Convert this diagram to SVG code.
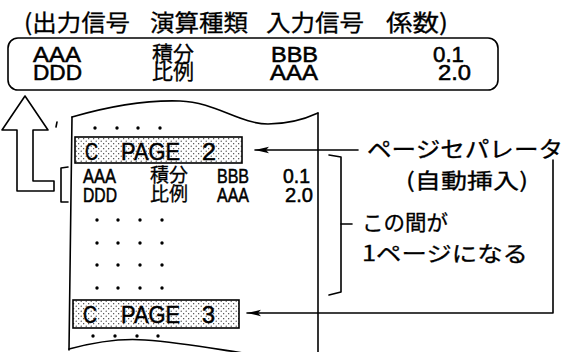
<svg xmlns="http://www.w3.org/2000/svg" width="567" height="352" viewBox="0 0 567 352">
<style>
.ln{fill:none;stroke:#000;stroke-width:1.6;stroke-linecap:round;stroke-linejoin:round}
.lt{font-family:"Liberation Sans","Noto Sans CJK JP",sans-serif;fill:#000;stroke:#000;stroke-width:0.55}
.jp{font-family:"Noto Sans CJK JP","Liberation Sans",sans-serif;fill:#000;stroke:#000;stroke-width:0.3}
.dot{fill:#000}
</style>
<defs>
<pattern id="stip" width="5" height="5" patternUnits="userSpaceOnUse">
<rect width="5" height="5" fill="#fff"/>
<circle cx="1.2" cy="1.2" r="0.6" fill="#222"/>
<circle cx="3.7" cy="3.7" r="0.6" fill="#222"/>
</pattern>
<marker id="ah" viewBox="0 0 14 8" refX="14" refY="4" markerWidth="14" markerHeight="8" markerUnits="userSpaceOnUse" orient="auto">
<path d="M14,4 L0,0.8 L3,4 L0,7.2 Z" fill="#000"/>
</marker>
</defs>

<g id="header">
<text class="jp" x="24" y="31" font-size="23" textLength="106" lengthAdjust="spacingAndGlyphs">(出力信号</text>
<text class="jp" x="150" y="31" font-size="23" textLength="98" lengthAdjust="spacingAndGlyphs">演算種類</text>
<text class="jp" x="266" y="31" font-size="23" textLength="98" lengthAdjust="spacingAndGlyphs">入力信号</text>
<text class="jp" x="386" y="31" font-size="23" textLength="62" lengthAdjust="spacingAndGlyphs">係数)</text>
</g>

<g id="table">
<rect class="ln" x="8" y="38" width="490" height="52" rx="10"/>
<text class="lt" font-size="22"><tspan x="33" y="62" textLength="48" lengthAdjust="spacingAndGlyphs">AAA</tspan><tspan x="33" y="80" textLength="49" lengthAdjust="spacingAndGlyphs">DDD</tspan></text>
<text class="jp" font-size="21"><tspan x="152" y="61">積分</tspan><tspan x="152" y="79">比例</tspan></text>
<text class="lt" font-size="22"><tspan x="271" y="62" textLength="47" lengthAdjust="spacingAndGlyphs">BBB</tspan><tspan x="270" y="80" textLength="48" lengthAdjust="spacingAndGlyphs">AAA</tspan></text>
<text class="lt" font-size="22"><tspan x="433" y="62" textLength="31" lengthAdjust="spacingAndGlyphs">0.1</tspan><tspan x="438" y="80" textLength="33" lengthAdjust="spacingAndGlyphs">2.0</tspan></text>
</g>

<g id="upArrow">
<polygon class="ln" points="25,96 48,130 33,130 33,181 54,181 54,191 17,191 17,130 2,130"/>
<path class="ln" d="M57,122 L56,127"/>
</g>

<g id="page">
<path class="ln" d="M72,117 C110,106 150,100 180,101 C215,102 240,124 268,124 C290,124 305,119 318,113"/>
<path class="ln" d="M72,117 L69,350"/>
<path class="ln" d="M318,113 L318,352"/>
<path class="ln" d="M69,349 C95,342 120,338 145,340 C190,343 230,352 265,356"/>
<g class="dot">
<circle cx="95" cy="128" r="1.7"/><circle cx="117" cy="128" r="1.7"/><circle cx="138" cy="128" r="1.7"/><circle cx="160" cy="128" r="1.7"/>
<circle cx="97" cy="220" r="1.7"/><circle cx="118" cy="220" r="1.7"/><circle cx="140" cy="220" r="1.7"/><circle cx="162" cy="220" r="1.7"/>
<circle cx="97" cy="243" r="1.7"/><circle cx="118" cy="243" r="1.7"/><circle cx="140" cy="243" r="1.7"/><circle cx="162" cy="243" r="1.7"/>
<circle cx="97" cy="265" r="1.7"/><circle cx="118" cy="265" r="1.7"/><circle cx="140" cy="265" r="1.7"/><circle cx="162" cy="265" r="1.7"/>
<circle cx="97" cy="288" r="1.7"/><circle cx="118" cy="288" r="1.7"/><circle cx="140" cy="288" r="1.7"/><circle cx="162" cy="288" r="1.7"/>
<circle cx="93" cy="336" r="1.7"/><circle cx="115" cy="336" r="1.7"/><circle cx="137" cy="336" r="1.7"/><circle cx="158" cy="336" r="1.7"/>
</g>
<text class="lt" font-size="21"><tspan x="83" y="183" textLength="33" lengthAdjust="spacingAndGlyphs">AAA</tspan><tspan x="83" y="202" textLength="34" lengthAdjust="spacingAndGlyphs">DDD</tspan></text>
<text class="jp" font-size="19"><tspan x="150" y="182">積分</tspan><tspan x="150" y="201">比例</tspan></text>
<text class="lt" font-size="21"><tspan x="217" y="183" textLength="32" lengthAdjust="spacingAndGlyphs">BBB</tspan><tspan x="217" y="202" textLength="32" lengthAdjust="spacingAndGlyphs">AAA</tspan></text>
<text class="lt" font-size="21"><tspan x="283" y="183" textLength="27" lengthAdjust="spacingAndGlyphs">0.1</tspan><tspan x="285" y="202" textLength="28" lengthAdjust="spacingAndGlyphs">2.0</tspan></text>
<path class="ln" d="M68,167 L61,168 L61,202 L68,202"/>
</g>

<g id="sep2">
<rect x="75" y="137" width="167" height="26" fill="url(#stip)" stroke="#000" stroke-width="1.6"/>
<text class="lt" x="85" y="160" font-size="23" textLength="13" lengthAdjust="spacingAndGlyphs">C</text>
<text class="lt" x="121" y="160" font-size="23" textLength="59" lengthAdjust="spacingAndGlyphs">PAGE</text>
<text class="lt" x="202" y="160" font-size="23" textLength="14" lengthAdjust="spacingAndGlyphs">2</text>
</g>

<g id="sep3">
<rect x="73" y="300" width="166" height="28" fill="url(#stip)" stroke="#000" stroke-width="1.6"/>
<text class="lt" x="83" y="323" font-size="23" textLength="14" lengthAdjust="spacingAndGlyphs">C</text>
<text class="lt" x="121" y="323" font-size="23" textLength="59" lengthAdjust="spacingAndGlyphs">PAGE</text>
<text class="lt" x="202" y="323" font-size="23" textLength="13" lengthAdjust="spacingAndGlyphs">3</text>
</g>

<g id="labels">
<text class="jp" x="367" y="157" font-size="22" textLength="196" lengthAdjust="spacingAndGlyphs">ページセパレータ</text>
<text class="jp" x="406" y="188" font-size="21" textLength="122" lengthAdjust="spacingAndGlyphs">(自動挿入)</text>
<text class="jp" x="362" y="230" font-size="21" textLength="86" lengthAdjust="spacingAndGlyphs">この間が</text>
<text class="jp" x="362" y="261" font-size="21" textLength="166" lengthAdjust="spacingAndGlyphs">1ページになる</text>
</g>

<g id="connectors">
<path class="ln" d="M358,150 L255,150" marker-end="url(#ah)"/>
<path class="ln" d="M553,160 L553,313 L247,313" marker-end="url(#ah)"/>
<path class="ln" d="M329,155 L341,157 L341,292 L329,295"/>
<path class="ln" d="M341,224 L352,224"/>
</g>
</svg>
